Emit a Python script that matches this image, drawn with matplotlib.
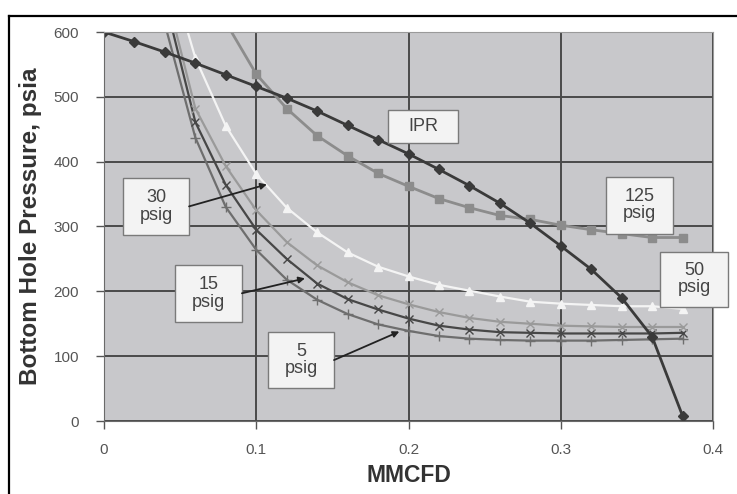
import numpy as np
import matplotlib
matplotlib.use("Agg")
from matplotlib import pyplot as plt
from matplotlib.lines import Line2D
from matplotlib.patches import Rectangle
import matplotlib.transforms as mtransforms

plt.rcParams['font.family'] = ['Liberation Sans', 'DejaVu Sans']

# IPR curve (diamonds)
ipr_x = [0.0, 0.02, 0.04, 0.06, 0.08, 0.10, 0.12, 0.14, 0.16, 0.18, 0.20,
         0.22, 0.24, 0.26, 0.28, 0.30, 0.32, 0.34, 0.36, 0.38]
ipr_y = [600, 585, 569, 552, 534, 516, 498, 478, 456, 434, 412,
         388, 363, 336, 305, 270, 234, 190, 130, 8]

# tubing curves
q_125 = [0.08, 0.10, 0.12, 0.14, 0.16, 0.18, 0.20, 0.22, 0.24, 0.26, 0.28,
         0.30, 0.32, 0.34, 0.36, 0.38]
p_125 = [615, 535, 482, 440, 409, 382, 362, 343, 329, 317, 311,
         302, 295, 289, 283, 283]

q_50 = [0.04, 0.06, 0.08, 0.10, 0.12, 0.14, 0.16, 0.18, 0.20, 0.22, 0.24,
        0.26, 0.28, 0.30, 0.32, 0.34, 0.36, 0.38]
p_50 = [720, 560, 455, 381, 329, 291, 260, 238, 223, 210, 201,
        192, 184, 181, 179, 177, 177, 173]

q_low = [0.04, 0.06, 0.08, 0.10, 0.12, 0.14, 0.16, 0.18, 0.20, 0.22, 0.24,
         0.26, 0.28, 0.30, 0.32, 0.34, 0.36, 0.38]
p_30 = [668, 482, 393, 325, 276, 240, 214, 194, 180, 168, 159,
        153, 150, 147, 146, 145, 145, 145]
p_15 = [650, 461, 364, 295, 250, 212, 188, 172, 158, 147, 141,
        137, 136, 135, 135, 135, 135, 136]
p_5 = [612, 437, 330, 264, 218, 187, 165, 149, 139, 131, 127,
       125, 124, 124, 124, 125, 126, 127]

# callout boxes: text, centre (x, y), box size (w, h in px), arrow tip or None
box_text = ["IPR", "30\npsig", "15\npsig", "5\npsig", "125\npsig", "50\npsig"]
box_xy = [(0.2095, 455), (0.0342, 331), (0.0686, 197), (0.1294, 94),
          (0.352, 333), (0.3875, 219)]
box_wh = [(70, 33), (66, 57), (67, 57), (66, 56), (67, 57), (68, 55)]
arrow_tip = [None, (0.107, 365), (0.132, 220), (0.194, 138), None, None]

W, H = 737, 494
fig = plt.figure(figsize=(W / 100, H / 100), dpi=100)
ax = fig.add_axes([104 / W, 1 - 421 / H, (713 - 104) / W, (421 - 32) / H])
ax.set_facecolor('#c8c8cb')

ax.plot(q_low, p_5, color='#6e6e6e', lw=1.6, marker='+', ms=7, mew=1.0)
ax.plot(q_low, p_15, color='#474747', lw=1.6, marker='x', ms=6, mew=1.0)
ax.plot(q_low, p_30, color='#9a9a9a', lw=1.6, marker='x', ms=6, mew=1.0)
ax.plot(q_50, p_50, color='#f4f4f4', lw=1.6, marker='^', ms=6)
ax.plot(q_125, p_125, color='#8c8c8c', lw=2.0, marker='s', ms=6)
ax.plot(ipr_x, ipr_y, color='#3a3a3a', lw=2.0, marker='D', ms=5)

ax.set_xlim(0, 0.4)
ax.set_ylim(0, 600)
ax.set_xticks([0, 0.1, 0.2, 0.3, 0.4])
ax.set_xticklabels(['0', '0.1', '0.2', '0.3', '0.4'])
ax.set_yticks(range(0, 700, 100))
ax.grid(True, color='#4a4a4a', lw=1.4)
ax.set_axisbelow(True)
ax.tick_params(colors='#555555', labelsize=11, length=6, width=1, pad=10)
ax.tick_params(axis='y', pad=12)
for s in ['top', 'right']:
    ax.spines[s].set_color('#9a9a9a')
for s in ['bottom', 'left']:
    ax.spines[s].set_color('#6a6a6a')

ax.set_xlabel('MMCFD', fontsize=16.5, fontweight='bold', color='#333333', labelpad=5)
ax.set_ylabel('Bottom Hole Pressure, psia', fontsize=17.5, fontweight='bold',
              color='#333333', labelpad=8)

for txt, (cx, cy), (bw, bh), tip in zip(box_text, box_xy, box_wh, arrow_tip):
    tr = fig.dpi_scale_trans + mtransforms.ScaledTranslation(cx, cy, ax.transData)
    ax.add_patch(Rectangle((-bw / 200, -bh / 200), bw / 100, bh / 100,
                           transform=tr, facecolor='#f3f3f3', edgecolor='#7a7a7a',
                           lw=1.0, clip_on=False, zorder=5))
    ax.text(cx, cy, txt, ha='center', va='center', fontsize=13, color='#444444',
            linespacing=1.05, zorder=6, clip_on=False)
    if tip is not None:
        ax.annotate('', xy=tip, xytext=(bw / 200, 0), textcoords=tr,
                    arrowprops=dict(arrowstyle='-|>', color='#222222', lw=1.3,
                                    mutation_scale=9, shrinkA=0, shrinkB=0),
                    zorder=7)

# frame lines of the original figure
fig.add_artist(Line2D([9 / W, 1], [1 - 16 / H, 1 - 16 / H], color='black', lw=1.6))
fig.add_artist(Line2D([9 / W, 9 / W], [0, 1 - 16 / H], color='black', lw=1.6))

fig.savefig('out.png', dpi=100)
